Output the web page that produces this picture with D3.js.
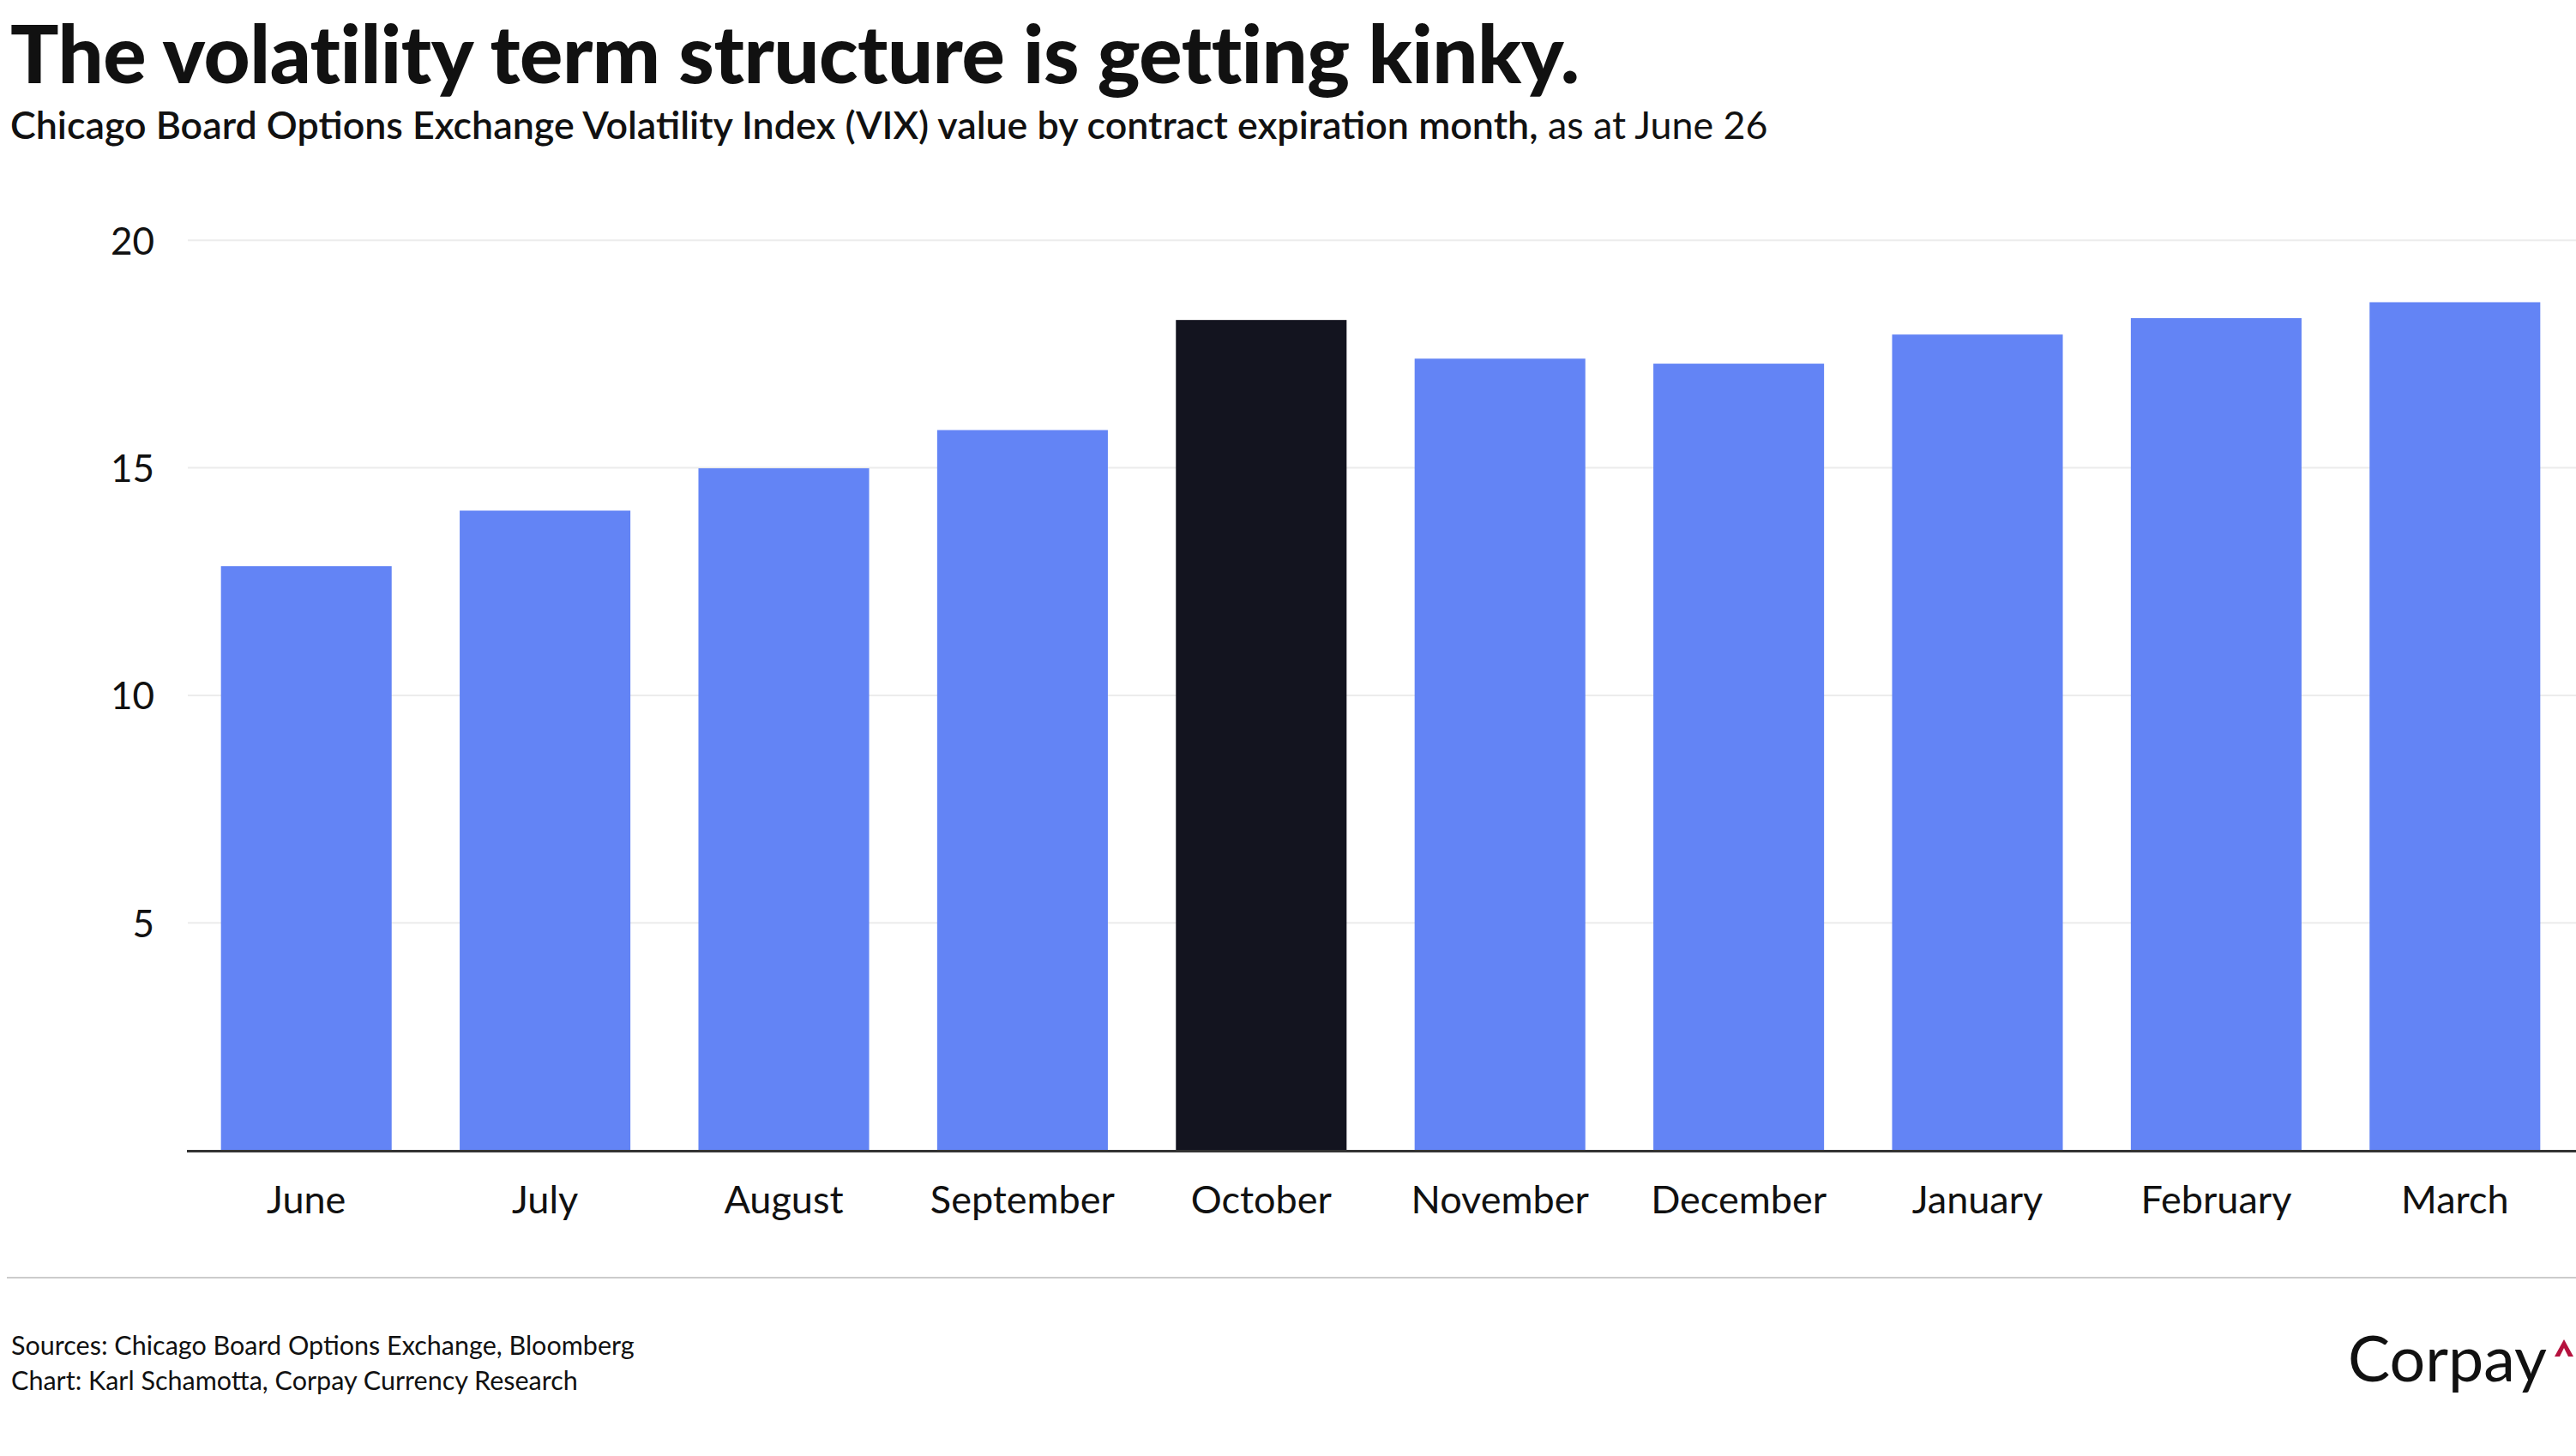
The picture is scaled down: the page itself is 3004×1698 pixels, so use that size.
<!DOCTYPE html>
<html>
<head>
<meta charset="utf-8">
<script src="https://cdn.jsdelivr.net/npm/d3@7"></script>
<style>
  html, body { margin: 0; padding: 0; background: #ffffff; }
  svg { display: block; }
  text { font-family: Lato, "Open Sans", sans-serif; fill: #111111; }
</style>
</head>
<body>
<svg id="chart" width="3004" height="1698"></svg>
<script>
const months = ["June", "July", "August", "September", "October", "November", "December", "January", "February", "March"];
const vixValues = [12.84, 14.06, 14.99, 15.83, 18.25, 17.40, 17.29, 17.93, 18.29, 18.64];
const highlightMonth = "October";
const yTicks = [5, 10, 15, 20];

const titleText = "The volatility term structure is getting kinky.";
const subtitleBold = "Chicago Board Options Exchange Volatility Index (VIX) value by contract expiration month,";
const subtitleRegular = " as at June 26";
const sourceLines = ["Sources: Chicago Board Options Exchange, Bloomberg", "Chart: Karl Schamotta, Corpay Currency Research"];

const W = 3004, H = 1698;
const svg = d3.select("#chart");
svg.append("rect").attr("width", W).attr("height", H).attr("fill", "#ffffff");

// fit text to a target width by adjusting font size
function fitWidth(sel, target) {
  const w = sel.node().getComputedTextLength();
  const fs = parseFloat(sel.attr("font-size"));
  sel.attr("font-size", (fs * target / w).toFixed(2));
}

// Title
const title = svg.append("text")
  .attr("x", 12).attr("y", 97)
  .attr("font-size", 88).attr("font-weight", 900)
  .style("letter-spacing", "-0.5px")
  .text(titleText);
fitWidth(title, 1828);

// Subtitle
const sub = svg.append("text").attr("x", 12).attr("y", 162).attr("font-size", 43);
sub.append("tspan").attr("font-weight", 600).text(subtitleBold);
sub.append("tspan").attr("font-weight", 400).text(subtitleRegular);
fitWidth(sub, 2050);

// Scales
const x = d3.scaleBand().domain(months).range([218, 3002]).paddingInner(0.285).paddingOuter(0.1425);
const y = d3.scaleLinear().domain([0, 20]).range([1341.5, 280.3]);

// Gridlines
svg.append("g").selectAll("line").data(yTicks).join("line")
  .attr("x1", 219).attr("x2", W)
  .attr("y1", d => y(d)).attr("y2", d => y(d))
  .attr("stroke", "#ececec").attr("stroke-width", 2);

// Y axis labels
const yAxis = svg.append("g").attr("transform", "translate(180,0)")
  .call(d3.axisLeft(y).tickValues(yTicks).tickSize(0).tickPadding(0));
yAxis.select(".domain").remove();
yAxis.selectAll("text")
  .attr("font-size", 44).attr("font-family", "Lato, sans-serif")
  .attr("fill", "#111").attr("dy", "0.36em");

// Bars
svg.append("g").selectAll("rect").data(months.map((m, i) => ({m, v: vixValues[i]}))).join("rect")
  .attr("x", d => x(d.m))
  .attr("width", x.bandwidth())
  .attr("y", d => y(d.v))
  .attr("height", d => y(0) - y(d.v))
  .attr("fill", d => d.m === highlightMonth ? "#13141f" : "#6384f5");

// X axis
const xAxis = svg.append("g").attr("transform", `translate(0,${y(0)})`)
  .call(d3.axisBottom(x).tickSize(0).tickPadding(0));
xAxis.select(".domain").remove();
svg.append("line").attr("x1", 218).attr("x2", W).attr("y1", y(0) + 1).attr("y2", y(0) + 1)
  .attr("stroke", "#333333").attr("stroke-width", 3);
xAxis.selectAll("text")
  .attr("font-size", 45).attr("font-family", "Lato, sans-serif")
  .attr("fill", "#111").attr("y", 73).attr("dy", 0);

// Separator
svg.append("line").attr("x1", 8).attr("x2", W).attr("y1", 1490).attr("y2", 1490)
  .attr("stroke", "#cccccc").attr("stroke-width", 2);

// Sources
const src = svg.append("g").selectAll("text").data(sourceLines).join("text")
  .attr("x", 13).attr("y", (d, i) => 1580 + i * 41)
  .attr("font-size", 28).attr("fill", "#222")
  .text(d => d);
fitWidth(d3.select(src.nodes()[0]), 727);
src.attr("font-size", d3.select(src.nodes()[0]).attr("font-size"));

// Logo
const logo = svg.append("text").attr("x", 2738).attr("y", 1611)
  .attr("font-family", "'Liberation Sans', Arial, sans-serif")
  .attr("font-size", 68).attr("fill", "#000").text("Corpay");
fitWidth(logo, 232);
svg.append("path")
  .attr("d", "M2979,1582 L2990,1562 L3001,1582 L2995,1582 L2990,1572 L2985,1582 Z")
  .attr("fill", "#b5123e");
</script>
</body>
</html>
